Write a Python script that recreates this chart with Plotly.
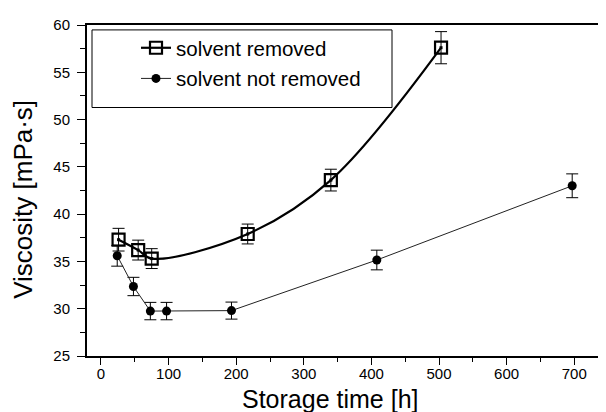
import plotly.graph_objects as go

# Data
removed_time = [26, 55, 75, 217, 340, 503]
removed_visc = [37.3, 36.2, 35.3, 37.9, 43.6, 57.6]
removed_err = [1.2, 1.05, 1.05, 1.05, 1.15, 1.7]

notremoved_time = [24, 48, 73, 97, 193, 408, 697]
notremoved_visc = [35.6, 32.35, 29.75, 29.75, 29.8, 35.15, 43.0]
notremoved_err = [1.1, 0.97, 0.92, 0.92, 0.9, 1.04, 1.26]

x_ticks = [0, 100, 200, 300, 400, 500, 600, 700]
y_ticks = [25, 30, 35, 40, 45, 50, 55, 60]

FONT = "Liberation Sans, Arial, sans-serif"

fig = go.Figure()

fig.add_trace(go.Scatter(
    x=removed_time, y=removed_visc,
    mode="lines+markers",
    name="solvent removed",
    legendgroup="a",
    line=dict(color="black", width=2.2, shape="spline", smoothing=1.0),
    marker=dict(symbol="square-open", size=12, color="black",
                line=dict(color="black", width=2.2)),
    error_y=dict(type="data", array=removed_err, visible=True,
                 color="black", thickness=1, width=6),
))
# centre dots of the open squares
fig.add_trace(go.Scatter(
    x=removed_time, y=removed_visc, mode="markers", showlegend=False,
    hoverinfo="skip",
    marker=dict(symbol="square", size=3, color="black"),
))

fig.add_trace(go.Scatter(
    x=notremoved_time, y=notremoved_visc,
    mode="lines+markers",
    name="solvent not removed",
    legendgroup="b",
    line=dict(color="#222222", width=1),
    marker=dict(symbol="circle", size=9, color="black"),
    error_y=dict(type="data", array=notremoved_err, visible=True,
                 color="black", thickness=1, width=6),
))

# legend frame
fig.add_shape(type="rect", xref="paper", yref="paper",
              x0=(92 - 87) / 519, x1=(392 - 87) / 519,
              y0=(356 - 103) / 337, y1=(356 - 24) / 337,
              line=dict(color="black", width=1), fillcolor="rgba(0,0,0,0)")

fig.update_layout(
    width=606, height=412,
    margin=dict(l=79, r=8, t=11, b=64),
    paper_bgcolor="white", plot_bgcolor="white",
    font=dict(family=FONT, color="black", size=15),
    showlegend=True,
    legend=dict(x=(136 - 87) / 519, y=(356 - 22) / 337,
                xanchor="left", yanchor="top",
                bgcolor="rgba(0,0,0,0)", borderwidth=0,
                font=dict(size=20.5, family=FONT),
                tracegroupgap=1, traceorder="grouped"),
    xaxis=dict(range=[-20.7, 747], tickvals=x_ticks,
               showgrid=False, zeroline=False,
               showline=True, linecolor="black", linewidth=2, mirror=True,
               ticks="outside", ticklen=7, tickwidth=1.2, tickcolor="black",
               minor=dict(dtick=50, ticks="outside", ticklen=4, tickwidth=1.2, tickcolor="black", showgrid=False),
               ticklabelstandoff=-4,
               tickfont=dict(size=15, family=FONT)),
    yaxis=dict(range=[25, 60], tickvals=y_ticks,
               showgrid=False, zeroline=False,
               showline=True, linecolor="black", linewidth=2, mirror=False,
               ticks="outside", ticklen=8, tickwidth=1.2, tickcolor="black",
               minor=dict(dtick=2.5, ticks="outside", ticklen=5, tickwidth=1.2, tickcolor="black", showgrid=False),
               ticklabelstandoff=4,
               tickfont=dict(size=15, family=FONT)),
    annotations=[
        dict(text="Storage time [h]", xref="paper", yref="paper",
             x=(330 - 87) / 519, y=-(400 - 356) / 337, xanchor="center", yanchor="middle",
             showarrow=False, font=dict(size=25, family=FONT)),
        dict(text="Viscosity [mPa·s]", xref="paper", yref="paper",
             x=-(87 - 23) / 519, y=(356 - 197) / 337, xanchor="center", yanchor="middle",
             textangle=-90, showarrow=False, font=dict(size=26, family=FONT)),
    ],
)

fig.write_html("out.html")
